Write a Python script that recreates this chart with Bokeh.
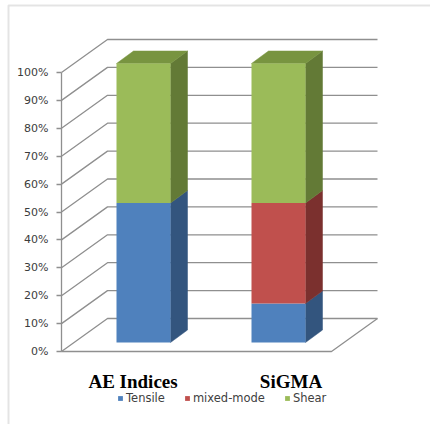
from bokeh.plotting import figure
from bokeh.models import (Range1d, FixedTicker, Legend, LegendItem, BoxAnnotation,
                          ColumnDataSource)
from bokeh.core.properties import value
from bokeh.embed import file_html
from bokeh.resources import INLINE

# ---------------- data ----------------
categories = ["AE Indices", "SiGMA"]
series = ["Tensile", "mixed-mode", "Shear"]
tensile = [50, 14]
mixed_mode = [0, 36]
shear = [50, 50]
y_ticks = [0, 10, 20, 30, 40, 50, 60, 70, 80, 90, 100]
y_tick_labels = ["0%", "10%", "20%", "30%", "40%", "50%", "60%", "70%", "80%", "90%", "100%"]

# ---------------- style / geometry ----------------
front_colors = ["#4F81BD", "#C0504D", "#9BBB59"]
side_colors = ["#33557E", "#7B302E", "#637A36"]
top_colors = ["#5B86BA", "#A9443F", "#789440"]
grid_color = "#8F8F8F"

SX = 135.0   # px per category slot
SY = 2.79    # px per percent
n = len(categories)
fdx, fdy = 46 / SX, 33 / SY       # floor depth
bdx, bdy = 14.5 / SX, 9 / SY      # bar front offset into depth
sdx, sdy = 17 / SX, 12.5 / SY     # bar depth
bw = 54 / SX                      # bar width
label_nudge = [0.03, 0.2]

p = figure(width=430, height=424, output_backend="svg", toolbar_location=None,
           x_range=Range1d(-61 / SX, 369 / SX), y_range=Range1d(-73 / SY, 351 / SY),
           min_border=0, min_border_left=0, min_border_right=0,
           min_border_top=0, min_border_bottom=0)
p.outline_line_color = None
p.background_fill_color = "white"
p.border_fill_color = "white"
p.grid.visible = False
p.xaxis.visible = False

# y axis placed at the front-left edge of the 3D box
ya = p.yaxis[0]
ya.fixed_location = 0
ya.bounds = (0, 100)
ya.ticker = FixedTicker(ticks=y_ticks)
ya.major_label_overrides = {t: l for t, l in zip(y_ticks, y_tick_labels)}
ya.axis_line_color = grid_color
ya.axis_line_width = 1.3
ya.major_tick_line_color = grid_color
ya.major_tick_line_width = 1.3
ya.major_tick_out = 5
ya.major_tick_in = 0
ya.minor_tick_line_color = None
ya.major_label_standoff = 8
ya.major_label_text_font = "DejaVu Sans"
ya.major_label_text_font_size = "11px"
ya.major_label_text_color = "#3C3C3C"

# gridlines (side wall diagonals + back wall) and floor
gx, gy = [], []
for t in y_ticks:
    gx.append([0, fdx, n + fdx])
    gy.append([t, t + fdy, t + fdy])
gx.append([0, n, n + fdx])
gy.append([0, 0, fdy])
p.multi_line(gx, gy, line_color=grid_color, line_width=1.3)

# stacked 3D bars
stack = [tensile, mixed_mode, shear]
centers = [i + 0.5 for i in range(n)]
bases = [0] * n
totals = [sum(s[i] for s in stack) for i in range(n)]
legend_renderers = []
for k, vals in enumerate(stack):
    left = [c + bdx - bw / 2 for c in centers]
    right = [c + bdx + bw / 2 for c in centers]
    bottom = [b + bdy for b in bases]
    top = [b + v + bdy for b, v in zip(bases, vals)]
    sxs, sys_ = [], []
    txs, tys = [], []
    for i in range(n):
        if vals[i] <= 0:
            continue
        sxs.append([right[i], right[i] + sdx, right[i] + sdx, right[i]])
        sys_.append([bottom[i], bottom[i] + sdy, top[i] + sdy, top[i]])
        if abs(bases[i] + vals[i] - totals[i]) < 1e-9:
            txs.append([left[i], left[i] + sdx, right[i] + sdx, right[i]])
            tys.append([top[i], top[i] + sdy, top[i] + sdy, top[i]])
    if sxs:
        p.patches(sxs, sys_, fill_color=side_colors[k], line_color=side_colors[k], line_width=0.5)
    if txs:
        p.patches(txs, tys, fill_color=top_colors[k], line_color=top_colors[k], line_width=0.5)
    src = ColumnDataSource(dict(left=left, right=right, bottom=bottom, top=top))
    r = p.quad(left="left", right="right", bottom="bottom", top="top", source=src,
               fill_color=front_colors[k], line_color=None)
    legend_renderers.append(r)
    bases = [b + v for b, v in zip(bases, vals)]

# category labels
p.text(x=[c + d for c, d in zip(centers, label_nudge)], y=[0] * n, text=categories,
       text_font=value("Liberation Serif"), text_font_style="bold", text_font_size="19px",
       text_color="#000000", text_align="center", text_baseline="alphabetic", y_offset=30)

# legend
legend = Legend(items=[LegendItem(label=s, renderers=[r]) for s, r in zip(series, legend_renderers)],
                orientation="horizontal", location=(117, 19), glyph_width=6, glyph_height=6,
                label_standoff=3, spacing=19, padding=0, margin=0, border_line_color=None,
                background_fill_alpha=0, label_text_font="DejaVu Sans",
                label_text_font_size="11.5px", label_text_color="#404040", label_height=12)
p.add_layout(legend)

# outer chart border (top and left edges visible)
p.add_layout(BoxAnnotation(left=8, right=470, top=5, bottom=470,
                           left_units="canvas", right_units="canvas",
                           top_units="canvas", bottom_units="canvas",
                           fill_color=None, line_color="#A6A6A6", line_width=2))

open("out.html", "w").write(file_html(p, INLINE))
